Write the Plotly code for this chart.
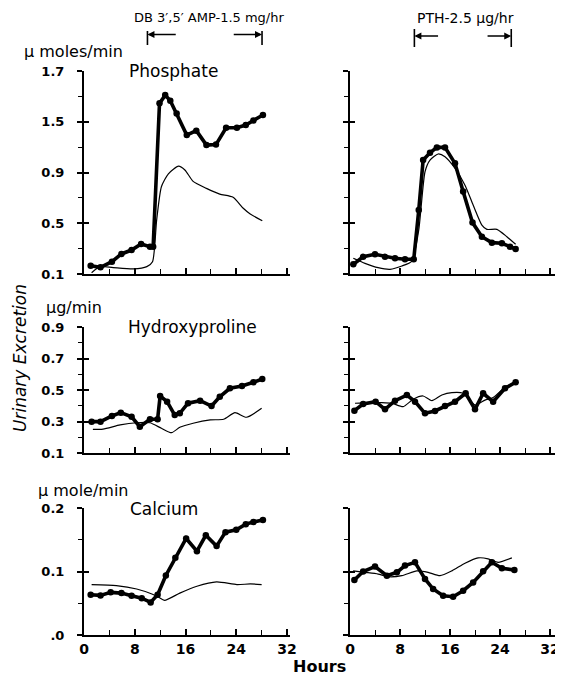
import plotly.graph_objects as go

# ---------------- data (hours, values) ----------------
phos_L_thick_h = [1.05, 2.6, 4.4, 5.9, 7.5, 9.0, 10.4, 10.9, 11.9, 12.8, 13.6, 14.6, 16.2, 17.7, 19.3, 20.8, 22.4, 24.1, 25.5, 26.7, 28.2]
phos_L_thick_v = [0.165, 0.153, 0.197, 0.258, 0.289, 0.336, 0.315, 0.315, 1.445, 1.51, 1.466, 1.366, 1.195, 1.23, 1.116, 1.12, 1.253, 1.253, 1.274, 1.31, 1.353]
phos_L_thin_h = [1.2, 2.5, 4.6, 7.8, 9.9, 10.8, 11.45, 12.2, 13.3, 14.9, 15.9, 17.2, 19.3, 21.4, 23.5, 25.1, 26.2, 28.1]
phos_L_thin_v = [0.11, 0.158, 0.15, 0.14, 0.158, 0.197, 0.525, 0.788, 0.89, 0.95, 0.92, 0.83, 0.775, 0.73, 0.705, 0.618, 0.573, 0.52]

phos_R_thick_h = [0.53, 2.1, 4.0, 5.6, 7.2, 8.8, 10.2, 11.0, 11.7, 12.8, 13.9, 15.2, 16.8, 18.1, 19.6, 21.1, 22.7, 24.3, 25.6, 26.5]
phos_R_thick_v = [0.176, 0.236, 0.255, 0.236, 0.224, 0.216, 0.216, 0.604, 0.998, 1.056, 1.098, 1.098, 0.972, 0.75, 0.505, 0.394, 0.347, 0.342, 0.315, 0.297]
phos_R_thin_h = [0.53, 2.4, 4.5, 6.4, 8.3, 9.9, 11.0, 12.0, 12.8, 14.1, 15.2, 16.8, 18.4, 19.7, 21.1, 21.9, 23.5, 25.1, 26.5]
phos_R_thin_v = [0.224, 0.184, 0.15, 0.137, 0.163, 0.202, 0.447, 0.906, 0.998, 1.046, 1.024, 0.933, 0.80, 0.644, 0.486, 0.452, 0.452, 0.394, 0.334]

hyp_L_thick_h = [1.2, 2.6, 4.4, 5.8, 7.5, 8.8, 10.4, 11.6, 12.0, 13.1, 14.3, 15.1, 16.4, 18.3, 20.1, 21.4, 23.0, 24.9, 26.7, 28.1]
hyp_L_thick_v = [0.299, 0.299, 0.335, 0.356, 0.33, 0.267, 0.314, 0.314, 0.462, 0.426, 0.341, 0.352, 0.416, 0.432, 0.398, 0.457, 0.511, 0.525, 0.549, 0.570]
hyp_L_thin_h = [1.4, 3.0, 5.7, 8.3, 10.4, 12.2, 13.8, 15.1, 17.2, 19.9, 22.0, 23.8, 25.6, 28.0]
hyp_L_thin_v = [0.25, 0.252, 0.278, 0.292, 0.292, 0.257, 0.229, 0.263, 0.289, 0.31, 0.314, 0.356, 0.327, 0.384]

hyp_R_thick_h = [0.7, 2.1, 4.1, 5.6, 7.2, 9.1, 10.4, 12.0, 13.6, 15.2, 16.8, 18.5, 20.0, 21.3, 22.9, 24.8, 26.5]
hyp_R_thick_v = [0.369, 0.411, 0.426, 0.377, 0.432, 0.468, 0.426, 0.352, 0.367, 0.398, 0.426, 0.479, 0.377, 0.479, 0.426, 0.511, 0.549]
hyp_R_thin_h = [0.8, 2.9, 5.1, 6.7, 8.5, 10.1, 11.7, 13.1, 14.7, 16.3, 18.1, 20.0, 21.6, 22.9, 24.8, 26.5]
hyp_R_thin_v = [0.416, 0.42, 0.42, 0.416, 0.394, 0.441, 0.462, 0.432, 0.468, 0.483, 0.479, 0.405, 0.436, 0.452, 0.517, 0.549]

ca_L_thick_h = [1.05, 2.6, 4.2, 5.9, 7.5, 9.1, 10.5, 11.6, 12.9, 14.4, 16.1, 17.8, 19.2, 20.9, 22.3, 24.0, 25.5, 26.7, 28.2]
ca_L_thick_v = [0.0635, 0.0624, 0.0672, 0.066, 0.062, 0.058, 0.0513, 0.0635, 0.0937, 0.1217, 0.152, 0.132, 0.157, 0.140, 0.162, 0.1656, 0.1746, 0.178, 0.181]
ca_L_thin_h = [1.2, 5.1, 8.3, 10.7, 11.7, 12.7, 15.1, 17.8, 20.9, 24.1, 26.2, 28.0]
ca_L_thin_v = [0.0794, 0.0778, 0.0725, 0.0646, 0.06, 0.0545, 0.066, 0.0767, 0.0836, 0.0794, 0.0804, 0.0794]

ca_R_thick_h = [0.7, 2.1, 4.0, 5.9, 7.5, 8.8, 10.4, 12.0, 13.3, 14.9, 16.5, 18.1, 19.7, 21.3, 22.7, 24.3, 26.3]
ca_R_thick_v = [0.0866, 0.100, 0.1077, 0.0934, 0.0987, 0.1093, 0.1145, 0.0882, 0.0724, 0.0618, 0.0602, 0.0697, 0.0828, 0.1002, 0.1145, 0.105, 0.1024]
ca_R_thin_h = [0.5, 2.4, 4.5, 6.1, 8.3, 10.7, 12.5, 14.4, 16.3, 18.4, 20.5, 22.1, 23.7, 25.9]
ca_R_thin_v = [0.101, 0.0987, 0.096, 0.0918, 0.0934, 0.101, 0.0987, 0.0934, 0.101, 0.113, 0.1214, 0.120, 0.1145, 0.1214]

x_major = [0, 8, 16, 24, 32]
x_minor = [4, 12, 20, 28]
x_labels = ["0", "8", "16", "24", "32"]

phos_major = [0.1, 0.5, 0.9, 1.3, 1.7]
phos_minor = [0.3, 0.7, 1.1, 1.5]
phos_labels = ["0.1", "0.5", "0.9", "1.5", "1.7"]
hyp_major = [0.1, 0.3, 0.5, 0.7, 0.9]
hyp_minor = [0.2, 0.4, 0.6, 0.8]
hyp_labels = ["0.1", "0.3", "0.5", "0.7", "0.9"]
ca_major = [0, 0.1, 0.2]
ca_minor = [0.05, 0.15]
ca_labels = [".0", "0.1", "0.2"]

infusion_L = [10.0, 28.06]
infusion_R = [10.3, 25.8]

# ---------------- layout geometry ----------------
# The page body has an 8px margin, so the figure sits at (8, 8) in the window.
OFF = 8
W, H = 563 - OFF, 676 - OFF
FONT = "DejaVu Sans"

def px(v):
    return (v - OFF) / W

def py(v):
    return 1 - (v - OFF) / H

x_dom = [[px(84), px(290.2)], [px(350), px(559)]]
x_rng = [[0, 32.5], [0, 33.44]]
y_dom = [[py(274), py(71)], [py(453), py(327)], [py(635), py(508)]]
y_rng = [[0.1, 1.7], [0.1, 0.9], [0, 0.2]]
y_ticks = [(phos_major, phos_minor, phos_labels), (hyp_major, hyp_minor, hyp_labels), (ca_major, ca_minor, ca_labels)]

panels = [
    [(phos_L_thick_h, phos_L_thick_v, phos_L_thin_h, phos_L_thin_v),
     (phos_R_thick_h, phos_R_thick_v, phos_R_thin_h, phos_R_thin_v)],
    [(hyp_L_thick_h, hyp_L_thick_v, hyp_L_thin_h, hyp_L_thin_v),
     (hyp_R_thick_h, hyp_R_thick_v, hyp_R_thin_h, hyp_R_thin_v)],
    [(ca_L_thick_h, ca_L_thick_v, ca_L_thin_h, ca_L_thin_v),
     (ca_R_thick_h, ca_R_thick_v, ca_R_thin_h, ca_R_thin_v)],
]

fig = go.Figure()
layout = {}
for r in range(3):
    for c in range(2):
        k = r * 2 + c + 1
        xa, ya = f"x{k}", f"y{k}"
        yo = f"y{k + 6}"
        th_h, th_v, tn_h, tn_v = panels[r][c]
        fig.add_trace(go.Scatter(x=tn_h, y=tn_v, mode="lines", xaxis=xa, yaxis=ya,
                                 line=dict(color="black", width=1.2, shape="spline", smoothing=0.6),
                                 hoverinfo="skip", showlegend=False))
        fig.add_trace(go.Scatter(x=th_h, y=th_v, mode="lines+markers", xaxis=xa, yaxis=ya,
                                 line=dict(color="black", width=3.6),
                                 marker=dict(color="black", size=6.5),
                                 hoverinfo="skip", showlegend=False))
        # invisible trace for the overlay axis that gives crossing ticks
        fig.add_trace(go.Scatter(x=[None], y=[None], xaxis=xa, yaxis=yo, showlegend=False, hoverinfo="skip"))
        major, minor, labels = y_ticks[r]
        bottom = (r == 2)
        xkey = "xaxis" if k == 1 else f"xaxis{k}"
        ykey = "yaxis" if k == 1 else f"yaxis{k}"
        layout[xkey] = dict(
            domain=x_dom[c], range=x_rng[c], anchor=ya, automargin=False,
            showgrid=False, zeroline=False, showline=True, linecolor="black", linewidth=2,
            ticks="inside", ticklen=6, tickwidth=1.6, tickcolor="black",
            tickmode="array", tickvals=x_major, ticktext=x_labels,
            showticklabels=bottom, ticklabelstandoff=0,
            tickfont=dict(family=FONT, size=14, color="black", weight="bold"),
            minor=dict(tickvals=x_minor, ticks="inside", ticklen=5, tickwidth=1.4, tickcolor="black"),
        )
        layout[ykey] = dict(
            domain=y_dom[r], range=y_rng[r], anchor=xa, automargin=False,
            showgrid=False, zeroline=False, showline=True, linecolor="black", linewidth=2,
            ticks="outside", ticklen=5, tickwidth=1.6, tickcolor="black",
            tickmode="array", tickvals=major, ticktext=labels,
            showticklabels=(c == 0), ticklabelstandoff=10,
            tickfont=dict(family=FONT, size=13, color="black", weight="bold"),
            minor=dict(tickvals=minor, ticks="outside", ticklen=4, tickwidth=1.4, tickcolor="black"),
        )
        layout[f"yaxis{k + 6}"] = dict(
            overlaying=ya, anchor=xa, side="left", range=y_rng[r], automargin=False,
            showgrid=False, zeroline=False, showline=False,
            ticks="inside", ticklen=5, tickwidth=1.6, tickcolor="black",
            tickmode="array", tickvals=major, showticklabels=False,
        )

fig.update_layout(**layout)

ann = []
def text(x, y, s, size, xanchor="left", bold=False, italic=False, angle=0):
    ann.append(dict(x=px(x), y=py(y), xref="paper", yref="paper", text=s, showarrow=False,
                    xanchor=xanchor, yanchor="middle", textangle=angle,
                    font=dict(family=FONT, size=size, color="black",
                              weight="bold" if bold else "normal",
                              style="italic" if italic else "normal")))

text(209, 18, "DB 3\u2032,5\u2032 AMP-1.5 mg/hr", 13, xanchor="center")
text(465, 18, "PTH-2.5 \u03bcg/hr", 14, xanchor="center")
text(22, 52, "\u03bc moles/min", 16)
text(127, 71, "Phosphate", 17)
text(44, 307, "\u03bcg/min", 16)
text(126, 327, "Hydroxyproline", 17)
text(36, 491, "\u03bc mole/min", 16)
text(128, 509, "Calcium", 17)
text(319, 666, "Hours", 16, xanchor="center", bold=True)
text(20, 358, "Urinary Excretion", 17, xanchor="center", italic=True, angle=-90)

shapes = []
# infusion period markers: bars and arrows
for xa, (t0, t1), yarr, ybar in [("x1", infusion_L, 34.5, (31, 45)), ("x2", infusion_R, 36, (29, 47))]:
    for t in (t0, t1):
        shapes.append(dict(type="line", xref=xa, yref="paper", x0=t, x1=t,
                           y0=py(ybar[0]), y1=py(ybar[1]), line=dict(color="black", width=1.6)))
    span = t1 - t0
    ann.append(dict(x=t0, y=py(yarr), xref=xa, yref="paper", ax=t0 + 0.26 * span, ay=0,
                    axref=xa, ayref="pixel", text="", showarrow=True,
                    arrowhead=2, arrowsize=1, arrowwidth=1.4, arrowcolor="black", standoff=0))
    ann.append(dict(x=t1, y=py(yarr), xref=xa, yref="paper", ax=t1 - 0.26 * span, ay=0,
                    axref=xa, ayref="pixel", text="", showarrow=True,
                    arrowhead=2, arrowsize=1, arrowwidth=1.4, arrowcolor="black", standoff=0))

fig.update_layout(
    width=W, height=H, margin=dict(l=0, r=0, t=0, b=0),
    paper_bgcolor="white", plot_bgcolor="white",
    annotations=ann, shapes=shapes, showlegend=False,
)

fig.write_html("out.html")
